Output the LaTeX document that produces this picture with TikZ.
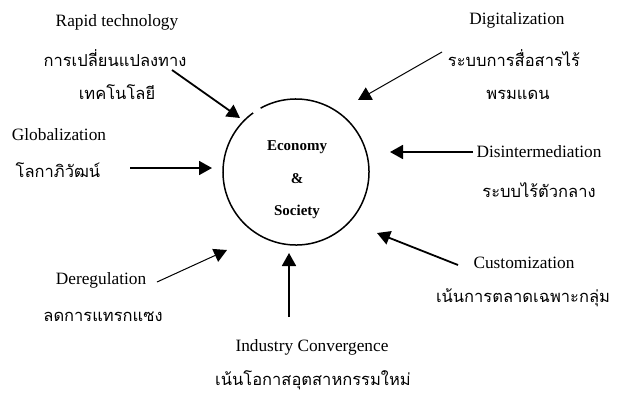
\documentclass[tikz,border=0pt]{standalone}
\usepackage{fontspec}
\setmainfont{Liberation Serif}
\newfontfamily\thaifont[Script=Thai]{Loma}
\usetikzlibrary{arrows.meta}
\begin{document}
\begin{tikzpicture}[x=1pt,y=-1pt,
  en/.style={inner sep=0pt,font=\fontsize{17.3}{20}\selectfont},
  th/.style={inner sep=0pt,font=\thaifont\fontsize{16.5}{19}\selectfont},
  ctr/.style={inner sep=0pt,font=\bfseries\fontsize{15}{17}\selectfont},
  thickarr/.style={line width=1.8pt,-{Triangle[length=13pt,width=14pt]}},
  thinarr/.style={line width=1pt,-{Triangle[length=13pt,width=14pt]}}]
\useasboundingbox (0,0) rectangle (623,394);
% circle (with its small gap at the upper left)
\node[circle,minimum size=146pt,inner sep=0pt] (c) at (296,172) {};
\draw[line width=1.5pt] (c.center) ++(-119:73) arc (-119:234:73);
\node[ctr] (e1) at (297,147) {Economy};
\node[ctr] (e2) at (297,179) {\&};
\node[ctr] (e3) at (297,212) {Society};
% labels
\node[en] (rt) at (117,22) {Rapid technology};
\node[th] (rt1) at (115,58) {การเปลี่ยนแปลงทาง};
\node[th] (rt2) at (117,92) {เทคโนโลยี};
\node[en] (gl) at (59,135) {Globalization};
\node[th] (gl1) at (58,170) {โลกาภิวัฒน์};
\node[en] (dg) at (517,20) {Digitalization};
\node[th] (dg1) at (514,58) {ระบบการสื่อสารไร้};
\node[th] (dg2) at (518,95) {พรมแดน};
\node[en] (di) at (539,152) {Disintermediation};
\node[th] (di1) at (539,190) {ระบบไร้ตัวกลาง};
\node[en] (cu) at (524,263) {Customization};
\node[th] (cu1) at (523,298) {เน้นการตลาดเฉพาะกลุ่ม};
\node[en] (de) at (101,280) {Deregulation};
\node[th] (de1) at (103,317) {ลดการแทรกแซง};
\node[en] (ic) at (312,347) {Industry Convergence};
\node[th] (ic1) at (313,380) {เน้นโอกาสอุตสาหกรรมใหม่};
% arrow ends
\coordinate (a1s) at (172,70);  \coordinate (a1e) at (240,118);
\coordinate (a2s) at (130,168); \coordinate (a2e) at (212,168);
\coordinate (a3s) at (442,52);  \coordinate (a3e) at (358,100);
\coordinate (a4s) at (473,152); \coordinate (a4e) at (390,152);
\coordinate (a5s) at (458,265); \coordinate (a5e) at (377,233);
\coordinate (a6s) at (289,317); \coordinate (a6e) at (289,253);
\coordinate (a7s) at (157,282); \coordinate (a7e) at (227,250);
\draw[thickarr] (a1s) -- (a1e);
\draw[thickarr] (a2s) -- (a2e);
\draw[thinarr] (a3s) -- (a3e);
\draw[thickarr] (a4s) -- (a4e);
\draw[thickarr] (a5s) -- (a5e);
\draw[thickarr] (a6s) -- (a6e);
\draw[thinarr] (a7s) -- (a7e);
\end{tikzpicture}
\end{document}
